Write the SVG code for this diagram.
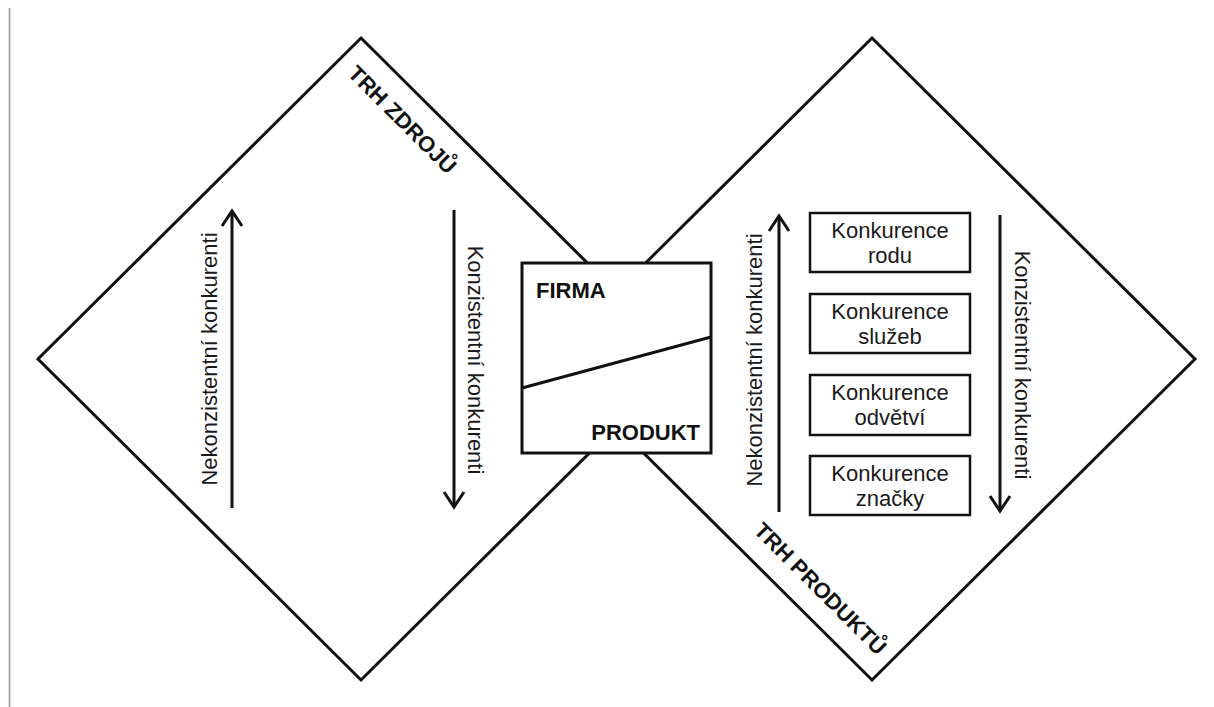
<svg xmlns="http://www.w3.org/2000/svg" width="1214" height="707" viewBox="0 0 1214 707">
<style>
.edge{fill:none;stroke:#111;stroke-width:3;stroke-linejoin:miter}
.box{fill:#fff;stroke:#111;stroke-width:2.5}
.t{font-family:"Liberation Sans",Arial,sans-serif;font-size:22px;fill:#1a1a1a}
.b{font-family:"Liberation Sans",Arial,sans-serif;font-size:22px;font-weight:bold;fill:#111}
.arr{stroke:#111;stroke-width:3;fill:none}
</style>
<defs>
<marker id="chev" markerUnits="userSpaceOnUse" markerWidth="40" markerHeight="40" viewBox="-20 -20 40 40" refX="0" refY="0" orient="auto">
<path d="M-15,-10 L0,0 L-15,10" fill="none" stroke="#111" stroke-width="3"/>
</marker>
</defs>
<rect width="1214" height="707" fill="#fff"/>
<line x1="9.5" y1="8" x2="9.5" y2="707" stroke="#999" stroke-width="1.5"/>

<g id="trh-zdroju">
<polygon class="edge" points="361,38 684,359 361,680 38,359"/>
<text class="b" text-anchor="middle" transform="translate(397,125) rotate(45)">TRH ZDROJŮ</text>
<text class="t" text-anchor="middle" transform="translate(217,359) rotate(-90)">Nekonzistentní konkurenti</text>
<text class="t" text-anchor="middle" transform="translate(468,360) rotate(90)">Konzistentní konkurenti</text>
</g>

<g id="trh-produktu">
<polygon class="edge" points="872,38 1195,359 872,680 549,359"/>
<text class="b" text-anchor="middle" transform="translate(815,594) rotate(45)">TRH PRODUKTŮ</text>
<text class="t" text-anchor="middle" transform="translate(762,360) rotate(-90)">Nekonzistentní konkurenti</text>
<text class="t" text-anchor="middle" transform="translate(1015,365) rotate(90)">Konzistentní konkurenti</text>
</g>

<g id="firma-produkt">
<rect x="522" y="263" width="189" height="190" fill="#fff" stroke="#111" stroke-width="3"/>
<line x1="522" y1="388" x2="711" y2="337" stroke="#111" stroke-width="3"/>
<text class="b" x="536" y="298">FIRMA</text>
<text class="b" x="700" y="440" text-anchor="end">PRODUKT</text>
</g>

<g id="konkurence-rodu">
<rect class="box" x="810" y="213" width="160" height="59"/>
<text class="t" x="890" y="238" text-anchor="middle">Konkurence</text>
<text class="t" x="890" y="263" text-anchor="middle">rodu</text>
</g>
<g id="konkurence-sluzeb">
<rect class="box" x="810" y="294" width="160" height="59"/>
<text class="t" x="890" y="319" text-anchor="middle">Konkurence</text>
<text class="t" x="890" y="344" text-anchor="middle">služeb</text>
</g>
<g id="konkurence-odvetvi">
<rect class="box" x="810" y="375" width="160" height="60"/>
<text class="t" x="890" y="400" text-anchor="middle">Konkurence</text>
<text class="t" x="890" y="425" text-anchor="middle">odvětví</text>
</g>
<g id="konkurence-znacky">
<rect class="box" x="810" y="456" width="160" height="59"/>
<text class="t" x="890" y="481" text-anchor="middle">Konkurence</text>
<text class="t" x="890" y="506" text-anchor="middle">značky</text>
</g>

<g id="connectors">
<line class="arr" x1="232" y1="508" x2="232" y2="211" marker-end="url(#chev)"/>
<line class="arr" x1="454" y1="210" x2="454" y2="507" marker-end="url(#chev)"/>
<line class="arr" x1="779" y1="512" x2="779" y2="216" marker-end="url(#chev)"/>
<line class="arr" x1="1000" y1="215" x2="1000" y2="511" marker-end="url(#chev)"/>
</g>
</svg>
